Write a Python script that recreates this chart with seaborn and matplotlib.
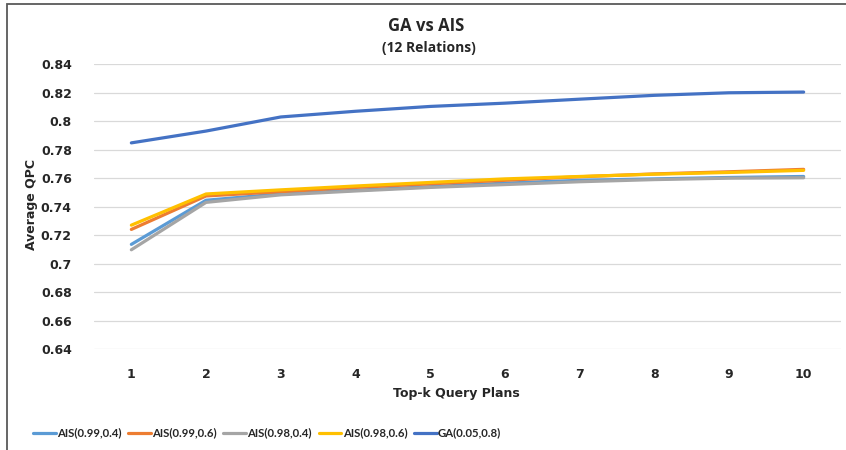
import matplotlib
matplotlib.use("Agg")
import matplotlib.pyplot as plt
import numpy as np
import pandas as pd
import seaborn as sns
from matplotlib.patches import Rectangle

# ---- data ----
topk = [1, 2, 3, 4, 5, 6, 7, 8, 9, 10]
ais_099_04 = [0.7135, 0.7445, 0.7490, 0.7515, 0.7540, 0.7565, 0.7585, 0.7595, 0.7605, 0.7612]
ais_099_06 = [0.7240, 0.7475, 0.7505, 0.7535, 0.7560, 0.7585, 0.7610, 0.7630, 0.7645, 0.7662]
ais_098_04 = [0.7097, 0.7430, 0.7483, 0.7510, 0.7535, 0.7555, 0.7575, 0.7590, 0.7600, 0.7603]
ais_098_06 = [0.7270, 0.7489, 0.7518, 0.7545, 0.7570, 0.7595, 0.7612, 0.7628, 0.7640, 0.7655]
ga_005_08 = [0.7848, 0.7931, 0.8030, 0.8070, 0.8104, 0.8127, 0.8155, 0.8182, 0.8200, 0.8205]
series_names = ["AIS(0.99,0.4)", "AIS(0.99,0.6)", "AIS(0.98,0.4)", "AIS(0.98,0.6)", "GA(0.05,0.8)"]
series_values = [ais_099_04, ais_099_06, ais_098_04, ais_098_06, ga_005_08]
colors = ["#5B9BD5", "#ED7D31", "#A5A5A5", "#FFC000", "#4472C4"]
yticks = [0.64, 0.66, 0.68, 0.70, 0.72, 0.74, 0.76, 0.78, 0.80, 0.82, 0.84]
ytick_labels = ["0.64", "0.66", "0.68", "0.7", "0.72", "0.74", "0.76", "0.78", "0.8", "0.82", "0.84"]

rows = []
for name, vals in zip(series_names, series_values):
    for k, v in zip(topk, vals):
        rows.append({"k": k, "QPC": v, "series": name})
df = pd.DataFrame(rows)

sns.set_style("white")
plt.rcParams["font.family"] = ["DejaVu Sans"]

W, H = 846, 450
fig = plt.figure(figsize=(W / 100, H / 100), dpi=100)
ax = fig.add_axes([94 / W, 101 / H, 747 / W, 284.7 / H])

sns.lineplot(data=df, x="k", y="QPC", hue="series", hue_order=series_names,
             palette=colors, linewidth=2.3, ax=ax, legend=False,
             solid_capstyle="round")

ax.set_xlim(0.5, 10.5)
ax.set_ylim(0.64, 0.84)
ax.set_yticks(yticks)
ax.set_yticklabels(ytick_labels)
ax.set_xticks(topk)
ax.set_xticklabels([str(k) for k in topk])
ax.yaxis.grid(True, color="#D9D9D9", linewidth=0.9)
ax.xaxis.grid(False)
ax.set_axisbelow(True)
for s in ax.spines.values():
    s.set_visible(False)
ax.tick_params(axis="both", length=0, labelsize=9, labelcolor="#262626")
ax.tick_params(axis="y", pad=16)
ax.tick_params(axis="x", pad=14)
for t in ax.get_xticklabels() + ax.get_yticklabels():
    t.set_fontweight("bold")
ax.set_xlabel("")
ax.set_ylabel("")

fig.text(456 / W, 1 - 393 / H, "Top-k Query Plans", ha="center", va="center",
         fontsize=9, fontweight="bold", color="#262626")
fig.text(32 / W, 1 - 204 / H, "Average QPC", ha="center", va="center",
         rotation=90, fontsize=9, fontweight="bold", color="#262626")

fig.text(426 / W, 1 - 26 / H, "GA vs AIS", ha="center", va="center",
         fontsize=12, fontweight="bold", color="#262626", family="Open Sans")
fig.text(429 / W, 1 - 48 / H, "(12 Relations)", ha="center", va="center",
         fontsize=10, fontweight="bold", color="#262626", family="Open Sans")

handles = ax.get_lines()[:5]
leg = fig.legend(handles, series_names, loc="center", ncol=5,
                 bbox_to_anchor=(267 / W, 17 / H), frameon=False,
                 prop={"family": "Lato", "size": 8.2, "weight": "bold"},
                 handlelength=2.0, handletextpad=0.1, columnspacing=0.6)
for t in leg.get_texts():
    t.set_color("#262626")

fig.add_artist(Rectangle((7 / W, -0.5), 2, 1.5 - 4 / H, transform=fig.transFigure,
                         fill=False, edgecolor="#595959", linewidth=1.3))

fig.savefig("out.png", dpi=100)
